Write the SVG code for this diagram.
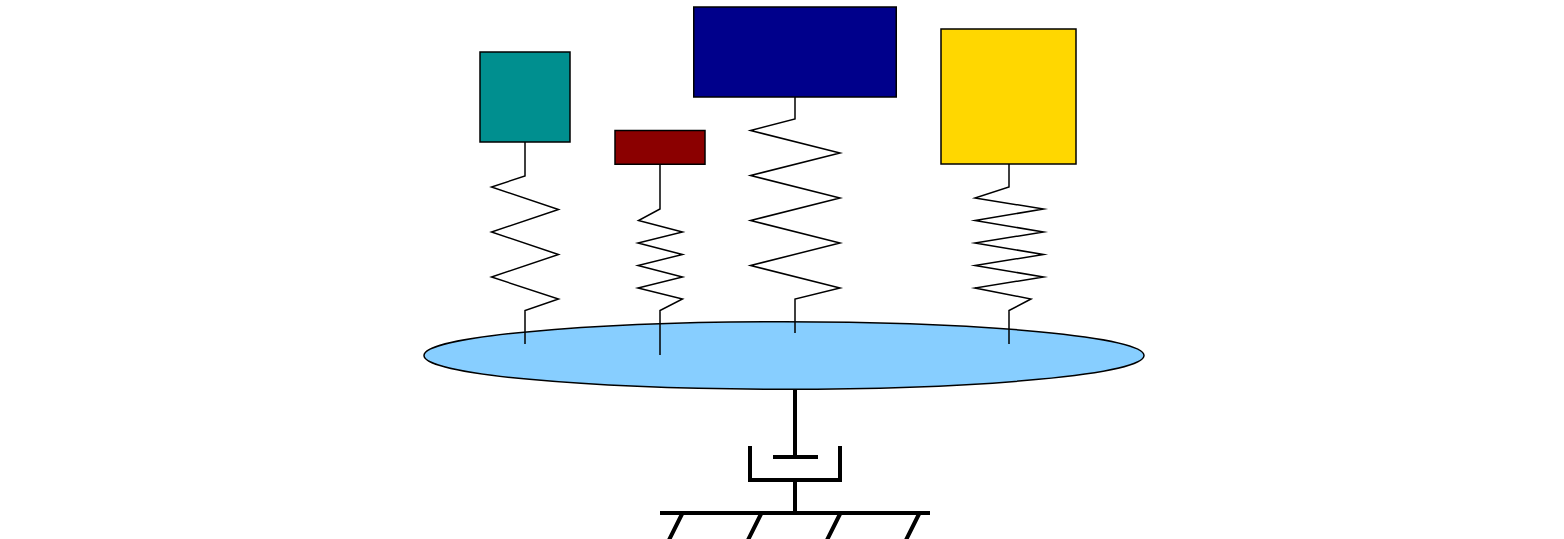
<svg xmlns="http://www.w3.org/2000/svg" width="1564" height="539" viewBox="0 0 1564 539">
<style>
.b{stroke:#000;stroke-width:1.5}
.s{fill:none;stroke:#000;stroke-width:1.5;stroke-linejoin:miter;stroke-miterlimit:10}
.t{fill:none;stroke:#000;stroke-width:4;stroke-linecap:butt;stroke-linejoin:miter}
</style>
<rect width="1564" height="539" fill="#fff"/>
<g id="platform"><ellipse class="b" cx="784" cy="355.500" rx="360" ry="33.750" fill="#87ceff"/></g>
<g id="mass-teal"><rect class="b" x="480" y="52" width="90" height="90" fill="#008f8f"/></g>
<g id="mass-red"><rect class="b" x="615" y="130.500" width="90" height="33.750" fill="#8b0000"/></g>
<g id="mass-navy"><rect class="b" x="693.750" y="7" width="202.500" height="90" fill="#00008b"/></g>
<g id="mass-gold"><rect class="b" x="941" y="29" width="135" height="135" fill="#ffd700"/></g>
<g id="connectors">
<polyline class="s" points="525,142 525,176 491.500,187 558.500,209.5 491.500,232 558.500,254.5 491.500,277 558.500,299 525,310.5 525,344"/>
<polyline class="s" points="660,164 660,209 638.500,220.5 682.500,232 638,243 682.500,254.500 638,265.500 682.500,277 638,288 682.500,299 660,310.500 660,355"/>
<polyline class="s" points="795,97 795,119 750.500,130.500 840,153 750.500,175.500 840,198 750.500,220.500 840,243 750.500,265.500 840,288 795,299 795,333"/>
<polyline class="s" points="1009,164 1009,187 975,198 1043.500,209 975,220.500 1043.500,232 975,243 1043.500,254.500 975,265.500 1043.500,277 975,288 1031,299 1009,310.500 1009,344"/>
<path class="t" d="M795,389V457M773,457H818M750,446V480H840V446M795,480V513M660,513H930M682,514L668,542M761,514L747,542M840,514L826,542M919,514L905,542"/>
</g>
</svg>
